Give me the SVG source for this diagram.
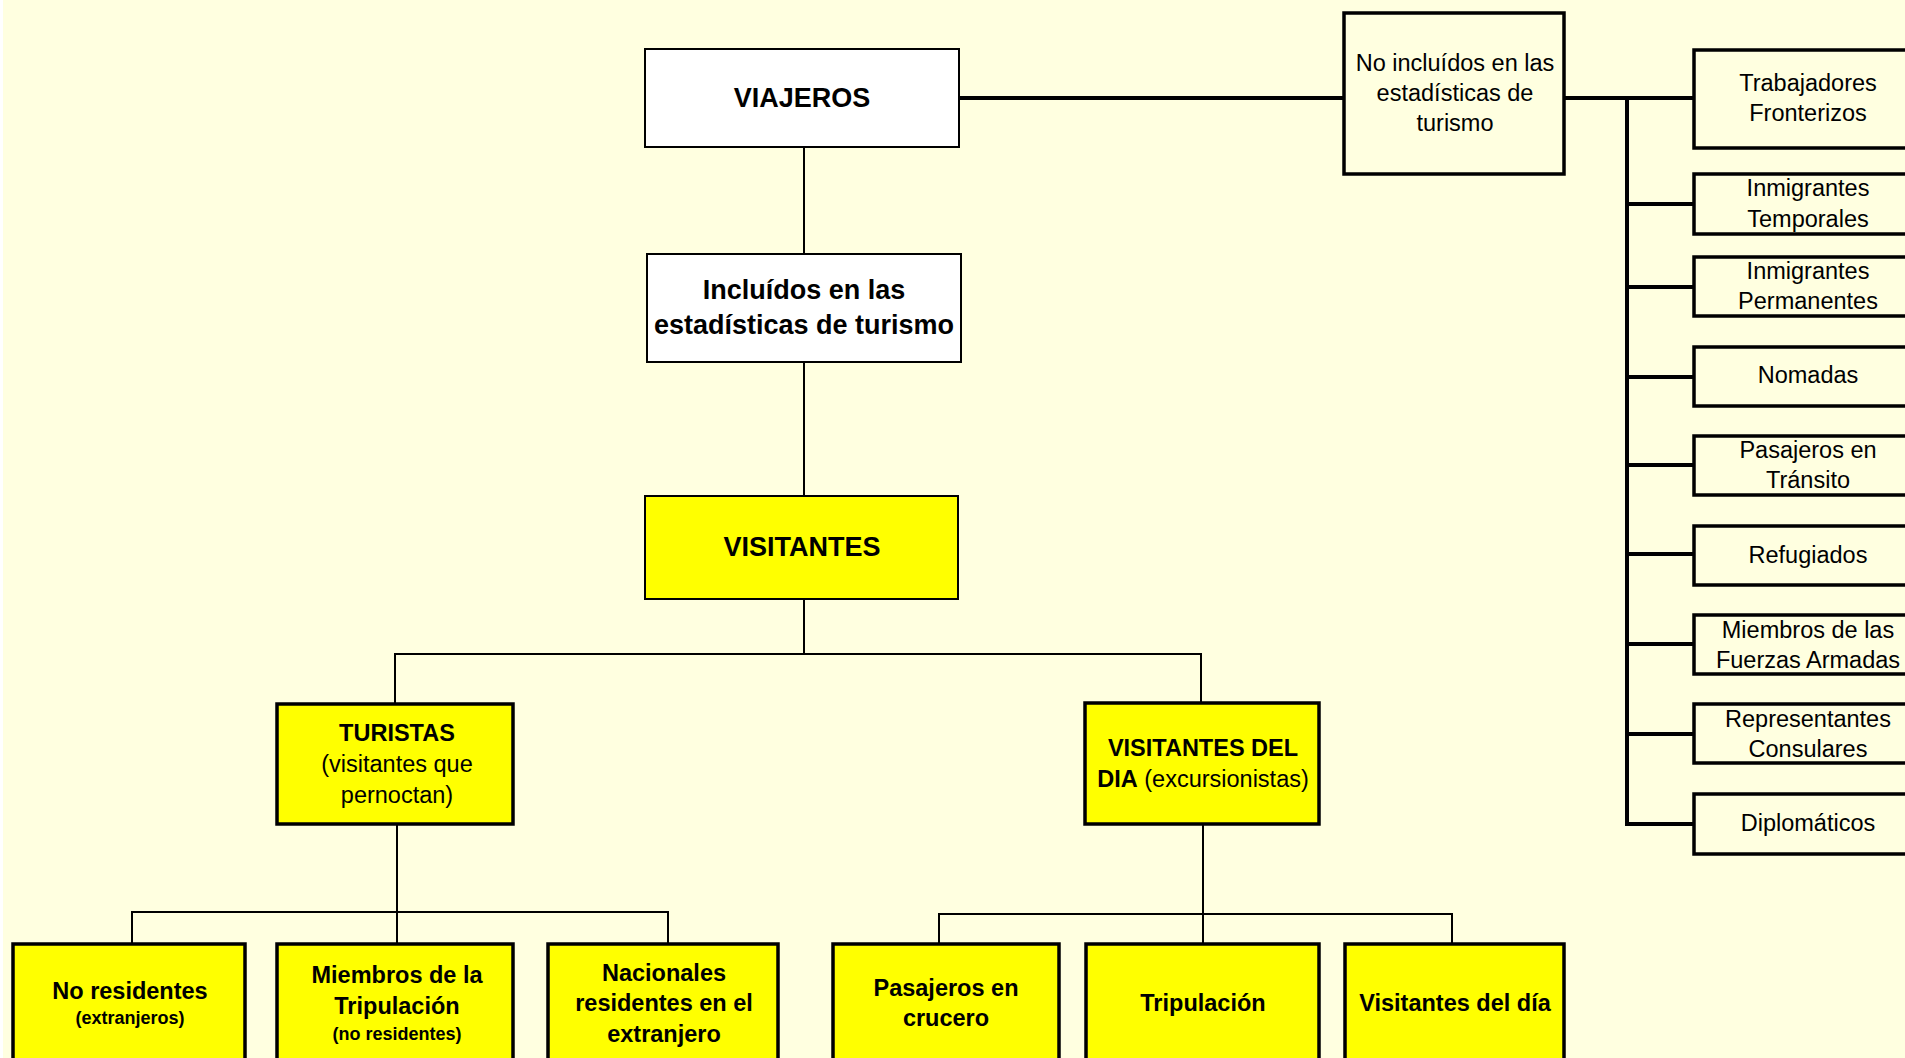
<svg xmlns="http://www.w3.org/2000/svg" width="1905" height="1058" viewBox="0 0 1905 1058">
<style>
.bg{fill:#FFFFE0}
.w{fill:#FFFFFF;stroke:#000;stroke-width:2}
.y{fill:#FFFF00;stroke:#000;stroke-width:2}
.y3{fill:#FFFF00;stroke:#000;stroke-width:3.5}
.n{fill:none;stroke:#000;stroke-width:3.5}
.c{fill:none;stroke:#000;stroke-width:2}
.ct{fill:none;stroke:#000;stroke-width:4}
text{font-family:"Liberation Sans",Arial,Helvetica,sans-serif;fill:#000;text-anchor:middle}
.h{font-size:27px;font-weight:bold}
.b{font-size:23.5px;font-weight:bold}
.r{font-size:23.5px}
.s{font-size:18px;font-weight:bold}
</style>
<rect x="0" y="0" width="1905" height="1058" fill="#FFFFFF"/>
<rect class="bg" x="3" y="0" width="1902" height="1058"/>

<g id="connectors">
  <line class="ct" x1="959" y1="98" x2="1344" y2="98"/>
  <line class="ct" x1="1564" y1="98" x2="1694" y2="98"/>
  <line class="ct" x1="1627" y1="96" x2="1627" y2="826"/>
  <line class="ct" x1="1627" y1="204" x2="1694" y2="204"/>
  <line class="ct" x1="1627" y1="287" x2="1694" y2="287"/>
  <line class="ct" x1="1627" y1="377" x2="1694" y2="377"/>
  <line class="ct" x1="1627" y1="465" x2="1694" y2="465"/>
  <line class="ct" x1="1627" y1="554" x2="1694" y2="554"/>
  <line class="ct" x1="1627" y1="644" x2="1694" y2="644"/>
  <line class="ct" x1="1627" y1="734" x2="1694" y2="734"/>
  <line class="ct" x1="1625" y1="824" x2="1694" y2="824"/>
  <line class="c" x1="804" y1="147" x2="804" y2="254"/>
  <line class="c" x1="804" y1="362" x2="804" y2="496"/>
  <polyline class="c" points="395,704 395,654 1201,654 1201,704"/>
  <line class="c" x1="804" y1="599" x2="804" y2="654"/>
  <line class="c" x1="397" y1="824" x2="397" y2="944"/>
  <polyline class="c" points="132,944 132,912 668,912 668,944"/>
  <line class="c" x1="1203" y1="824" x2="1203" y2="944"/>
  <polyline class="c" points="939,944 939,914 1452,914 1452,944"/>
</g>

<g id="viajeros">
  <rect class="w" x="645" y="49" width="314" height="98"/>
  <text class="h" x="802" y="107">VIAJEROS</text>
</g>
<g id="no-incluidos">
  <rect class="n" x="1344" y="13" width="220" height="161" fill="#FFFFE0"/>
  <text class="r" x="1455" y="71">No incluídos en las</text>
  <text class="r" x="1455" y="101">estadísticas de</text>
  <text class="r" x="1455" y="131">turismo</text>
</g>
<g id="incluidos">
  <rect class="w" x="647" y="254" width="314" height="108"/>
  <text class="h" x="804" y="299">Incluídos en las</text>
  <text class="h" x="804" y="334">estadísticas de turismo</text>
</g>
<g id="visitantes">
  <rect class="y" x="645" y="496" width="313" height="103"/>
  <text class="h" x="802" y="556">VISITANTES</text>
</g>
<g id="turistas">
  <rect class="y3" x="277" y="704" width="236" height="120"/>
  <text class="b" x="397" y="741">TURISTAS</text>
  <text class="r" x="397" y="772">(visitantes que</text>
  <text class="r" x="397" y="803">pernoctan)</text>
</g>
<g id="visitantes-dia">
  <rect class="y3" x="1085" y="703" width="234" height="121"/>
  <text class="b" x="1203" y="756">VISITANTES DEL</text>
  <text x="1203" y="787"><tspan class="b">DIA</tspan><tspan class="r"> (excursionistas)</tspan></text>
</g>
<g id="no-residentes">
  <rect class="y3" x="13" y="944" width="232" height="130"/>
  <text class="b" x="130" y="999">No residentes</text>
  <text class="s" x="130" y="1024">(extranjeros)</text>
</g>
<g id="miembros-tripulacion">
  <rect class="y3" x="277" y="944" width="236" height="130"/>
  <text class="b" x="397" y="983">Miembros de la</text>
  <text class="b" x="397" y="1014">Tripulación</text>
  <text class="s" x="397" y="1040">(no residentes)</text>
</g>
<g id="nacionales">
  <rect class="y3" x="548" y="944" width="230" height="130"/>
  <text class="b" x="664" y="981">Nacionales</text>
  <text class="b" x="664" y="1011">residentes en el</text>
  <text class="b" x="664" y="1042">extranjero</text>
</g>
<g id="pasajeros-crucero">
  <rect class="y3" x="833" y="944" width="226" height="130"/>
  <text class="b" x="946" y="996">Pasajeros en</text>
  <text class="b" x="946" y="1026">crucero</text>
</g>
<g id="tripulacion">
  <rect class="y3" x="1086" y="944" width="233" height="130"/>
  <text class="b" x="1203" y="1011">Tripulación</text>
</g>
<g id="visitantes-del-dia">
  <rect class="y3" x="1345" y="944" width="219" height="130"/>
  <text class="b" x="1455" y="1011">Visitantes del día</text>
</g>

<g id="trabajadores">
  <rect class="n" x="1694" y="50" width="240" height="98"/>
  <text class="r" x="1808" y="91">Trabajadores</text>
  <text class="r" x="1808" y="121">Fronterizos</text>
</g>
<g id="inm-temporales">
  <rect class="n" x="1694" y="174" width="240" height="60"/>
  <text class="r" x="1808" y="196">Inmigrantes</text>
  <text class="r" x="1808" y="227">Temporales</text>
</g>
<g id="inm-permanentes">
  <rect class="n" x="1694" y="257" width="240" height="59"/>
  <text class="r" x="1808" y="279">Inmigrantes</text>
  <text class="r" x="1808" y="309">Permanentes</text>
</g>
<g id="nomadas">
  <rect class="n" x="1694" y="347" width="240" height="59"/>
  <text class="r" x="1808" y="383">Nomadas</text>
</g>
<g id="transito">
  <rect class="n" x="1694" y="436" width="240" height="59"/>
  <text class="r" x="1808" y="458">Pasajeros en</text>
  <text class="r" x="1808" y="488">Tránsito</text>
</g>
<g id="refugiados">
  <rect class="n" x="1694" y="526" width="240" height="59"/>
  <text class="r" x="1808" y="563">Refugiados</text>
</g>
<g id="fuerzas-armadas">
  <rect class="n" x="1694" y="615" width="240" height="59"/>
  <text class="r" x="1808" y="638">Miembros de las</text>
  <text class="r" x="1808" y="668">Fuerzas Armadas</text>
</g>
<g id="consulares">
  <rect class="n" x="1694" y="704" width="240" height="59"/>
  <text class="r" x="1808" y="727">Representantes</text>
  <text class="r" x="1808" y="757">Consulares</text>
</g>
<g id="diplomaticos">
  <rect class="n" x="1694" y="794" width="240" height="60"/>
  <text class="r" x="1808" y="831">Diplomáticos</text>
</g>
</svg>
